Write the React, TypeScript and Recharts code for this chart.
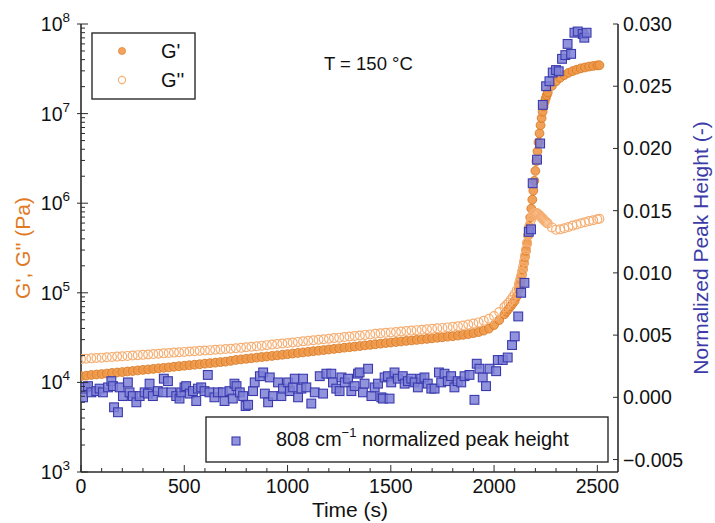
import React from "react";
import { ScatterChart, Scatter, XAxis, YAxis } from "recharts";

// ---------- data ----------
// [time (s), G' (Pa)]
const gPrime: [number, number][] = [
  [0, 11750], [25, 11900], [50, 12100], [75, 12250], [100, 12400], [125, 12550], [150, 12750], [175, 12900],
  [200, 13050], [225, 13250], [250, 13400], [275, 13600], [300, 13800], [325, 13950], [350, 14150], [375, 14350],
  [400, 14550], [425, 14700], [450, 14950], [475, 15150], [500, 15350], [525, 15550], [550, 15750], [575, 15950],
  [600, 16200], [625, 16400], [650, 16600], [675, 16850], [700, 17050], [725, 17400], [750, 17800], [775, 18050],
  [800, 18350], [825, 18600], [850, 18900], [875, 19200], [900, 19450], [925, 19750], [950, 20050], [975, 20350],
  [1000, 20650], [1025, 21000], [1050, 21300], [1075, 21600], [1100, 21950], [1125, 22300], [1150, 22600], [1175, 22950],
  [1200, 23300], [1225, 23650], [1250, 24000], [1275, 24400], [1300, 24700], [1325, 25100], [1350, 25450], [1375, 25900],
  [1400, 26250], [1425, 26650], [1450, 27050], [1475, 27500], [1500, 27850], [1525, 28250], [1550, 28650], [1575, 29050],
  [1600, 29400], [1625, 29800], [1650, 30200], [1675, 30600], [1700, 31050], [1725, 31500], [1750, 31900], [1775, 32350],
  [1800, 32800], [1825, 33350], [1850, 33950], [1875, 34650], [1900, 35500], [1925, 36500], [1950, 37850], [1975, 39800],
  [2000, 43650], [2025, 49550], [2050, 57550], [2060, 61650], [2070, 66050], [2080, 70800], [2090, 75850], [2100, 81300],
  [2110, 91200], [2120, 109650], [2125, 123000], [2130, 138000], [2135, 158500], [2140, 182000], [2145, 213800], [2150, 251200],
  [2155, 295100], [2160, 354800], [2165, 436500], [2170, 549500], [2175, 691800], [2180, 871000], [2185, 1096000], [2190, 1380000],
  [2195, 1778000], [2200, 2291000], [2205, 2951000], [2210, 3802000], [2215, 4786000], [2220, 6026000], [2225, 7413000], [2230, 8913000],
  [2235, 10470000], [2240, 12020000], [2245, 13490000], [2250, 14790000], [2255, 16030000], [2260, 17180000], [2280, 20420000], [2300, 22910000],
  [2320, 25120000], [2340, 26920000], [2360, 28510000], [2380, 29850000], [2400, 30900000], [2420, 31990000], [2440, 32730000], [2460, 33500000],
  [2480, 34040000], [2500, 34510000], [2510, 34670000],
];

// [time (s), G'' (Pa)]
const gDoublePrime: [number, number][] = [
  [0, 18200], [25, 18350], [50, 18550], [75, 18700], [100, 18900], [125, 19050], [150, 19250], [175, 19400],
  [200, 19600], [225, 19750], [250, 19950], [275, 20150], [300, 20300], [325, 20500], [350, 20700], [375, 20900],
  [400, 21100], [425, 21300], [450, 21500], [475, 21700], [500, 21900], [525, 22100], [550, 22300], [575, 22500],
  [600, 22700], [625, 22900], [650, 23100], [675, 23350], [700, 23550], [725, 23750], [750, 24000], [775, 24300],
  [800, 24650], [825, 25000], [850, 25350], [875, 25700], [900, 26050], [925, 26400], [950, 26800], [975, 27150],
  [1000, 27550], [1025, 27900], [1050, 28300], [1075, 28700], [1100, 29100], [1125, 29500], [1150, 29900], [1175, 30350],
  [1200, 30750], [1225, 31200], [1250, 31600], [1275, 32050], [1300, 32500], [1325, 32950], [1350, 33400], [1375, 33900],
  [1400, 34350], [1425, 34850], [1450, 35300], [1475, 35750], [1500, 36150], [1525, 36550], [1550, 37000], [1575, 37400],
  [1600, 37850], [1625, 38300], [1650, 38700], [1675, 39200], [1700, 39600], [1725, 40100], [1750, 40550], [1775, 41100],
  [1800, 41700], [1825, 42350], [1850, 43150], [1875, 44150], [1900, 45300], [1925, 46750], [1950, 48750], [1975, 51300],
  [2000, 54950], [2025, 60950], [2050, 69200], [2060, 73300], [2070, 77600], [2080, 83200], [2090, 89100], [2100, 96600],
  [2110, 107150], [2120, 125900], [2125, 138000], [2130, 153100], [2135, 171800], [2140, 195000], [2145, 223900], [2150, 260000],
  [2155, 305500], [2160, 363100], [2165, 436500], [2170, 512900], [2175, 588800], [2180, 660700], [2185, 716100], [2190, 749900],
  [2195, 770900], [2200, 779800], [2205, 776200], [2210, 765600], [2215, 749900], [2220, 731100], [2225, 711200], [2230, 691800],
  [2235, 673000], [2240, 653100], [2245, 636800], [2250, 620900], [2255, 606700], [2260, 594300], [2280, 537000], [2300, 507000],
  [2320, 510500], [2340, 524800], [2360, 543300], [2380, 562300], [2400, 579400], [2420, 596000], [2440, 613800], [2460, 630900],
  [2480, 645700], [2500, 660700], [2510, 669900],
];

// [time (s), normalized peak height (-)]
const peakHeight: [number, number][] = [
  [10, 0.0], [21, 0.0008], [34, 0.0009], [50, 0.0004], [74, 0.0005], [90, 0.0007], [106, 0.0004], [131, 0.0008],
  [147, 0.0013], [155, 0.0009], [160, -0.0008], [179, -0.0012], [187, 0.0008], [203, 0.0001], [227, 0.0012], [235, 0.0004],
  [251, 0.0001], [268, -0.0004], [284, 0.0001], [308, 0.0004], [324, 0.0003], [332, 0.0011], [348, 0.0001], [372, 0.0005],
  [397, 0.0004], [401, 0.0015], [421, 0.0013], [437, 0.0004], [461, 0.0001], [477, -0.0001], [485, 0.0004], [501, 0.0008],
  [509, 0.0009], [526, 0.0003], [542, 0.0005], [558, -0.0003], [566, 0.0007], [582, 0.0008], [598, 0.0005], [614, 0.0018],
  [622, 0.0004], [646, 0.0], [663, 0.0004], [687, 0.0004], [695, -0.0003], [719, 0.0005], [735, -0.0001], [743, 0.0011],
  [753, 0.0009], [769, 0.0004], [785, 0.0001], [797, -0.0007], [809, -0.0006], [833, 0.0005], [841, 0.0012], [866, 0.0017],
  [882, 0.002], [890, 0.0003], [906, -0.0004], [914, 0.0016], [930, 0.0001], [954, 0.0012], [970, 0.0001], [978, 0.0007],
  [1003, 0.0012], [1011, 0.0005], [1027, 0.0008], [1035, 0.0015], [1051, 0.0], [1067, 0.0007], [1075, 0.0015], [1091, 0.0008],
  [1115, -0.0005], [1132, 0.0004], [1156, 0.0017], [1172, 0.0003], [1188, 0.0019], [1212, 0.0019], [1220, 0.0012], [1236, 0.0007],
  [1252, 0.0005], [1261, 0.0016], [1277, 0.0012], [1293, 0.0015], [1309, 0.0005], [1325, 0.0009], [1341, 0.0019], [1349, 0.002],
  [1365, 0.0004], [1373, 0.0011], [1390, 0.0023], [1406, 0.0001], [1422, 0.0008], [1438, 0.0011], [1454, 0.0], [1462, -0.0001],
  [1470, 0.0016], [1486, 0.0017], [1494, -0.0001], [1502, 0.0012], [1518, 0.002], [1534, 0.0015], [1558, 0.0017], [1567, 0.0011],
  [1583, 0.0013], [1599, 0.0015], [1615, 0.0012], [1631, 0.0008], [1647, 0.0015], [1663, 0.0016], [1679, 0.0011], [1696, 0.0007],
  [1712, 0.0007], [1733, 0.002], [1744, 0.0012], [1760, 0.0019], [1776, 0.0013], [1792, 0.0017], [1808, 0.0008], [1824, 0.0013],
  [1841, 0.0012], [1857, 0.0017], [1881, 0.0018], [1905, -0.0002], [1916, 0.0027], [1929, 0.0023], [1945, 0.0016], [1961, 0.0009],
  [1978, 0.0023], [2010, 0.0021], [2018, 0.003], [2042, 0.003], [2066, 0.0032], [2087, 0.0042], [2100, 0.0049], [2117, 0.0065],
  [2131, 0.0084], [2147, 0.0092], [2168, 0.0133], [2179, 0.0135], [2187, 0.0172], [2208, 0.0191], [2223, 0.0204], [2236, 0.0235],
  [2252, 0.025], [2268, 0.0254], [2284, 0.0261], [2300, 0.0263], [2313, 0.0262], [2329, 0.0272], [2345, 0.0275], [2356, 0.0284],
  [2373, 0.0276], [2389, 0.0293], [2405, 0.0294], [2429, 0.0292], [2437, 0.0289], [2448, 0.0293],
];

// ---------- ticks ----------
const xTicks = [0, 100, 200, 300, 400, 500, 600, 700, 800, 900, 1000, 1100, 1200, 1300, 1400, 1500, 1600, 1700, 1800, 1900, 2000, 2100, 2200, 2300, 2400, 2500];
const xMajorStep = 500;
const logDecades = [1e3, 1e4, 1e5, 1e6, 1e7, 1e8];
const logMinorMultipliers = [2, 3, 4, 5, 6, 7, 8, 9];
const rightTicks = [-0.005, 0, 0.005, 0.01, 0.015, 0.02, 0.025, 0.03];

const leftTicks: number[] = [];
logDecades.forEach((d, i) => {
  leftTicks.push(d);
  if (i < logDecades.length - 1) logMinorMultipliers.forEach((m) => leftTicks.push(d * m));
});

// ---------- styles ----------
const FONT = "'Liberation Sans', Arial, Helvetica, sans-serif";
const AXIS = "#2b2b2b";
const ORANGE_FILL = "#EE9848";
const ORANGE_EDGE = "#D97A26";
const ORANGE_LEGEND = "#F4A25C";
const ORANGE_OPEN = "#F6AE72";
const BLUE_FILL = "#7E80D6";
const BLUE_EDGE = "#3A3AAE";
const ORANGE_TEXT = "#E07A24";
const BLUE_TEXT = "#3C3CA8";

const W = 715;
const H = 523;

const toPoints = (arr: [number, number][]) => arr.map(([t, y]) => ({ t, y }));

const BottomTick = (props: any) => {
  const { x, y, payload } = props;
  const v = payload.value;
  const major = v % xMajorStep === 0;
  return (
    <g>
      <line x1={x} x2={x} y1={y} y2={y - (major ? 7 : 4)} stroke={AXIS} strokeWidth={1} />
      {major && (
        <text x={x} y={y + 21} textAnchor="middle" fontSize={19.5} fill="#111" fontFamily={FONT}>
          {v}
        </text>
      )}
    </g>
  );
};

const TopTick = (props: any) => {
  const { x, y, payload } = props;
  const v = payload.value;
  const major = v % xMajorStep === 0;
  return <line x1={x} x2={x} y1={y} y2={y + (major ? 7 : 4)} stroke={AXIS} strokeWidth={1} />;
};

const LeftTick = (props: any) => {
  const { x, y, payload } = props;
  const v = payload.value;
  const lg = Math.log10(v);
  const e = Math.round(lg);
  const major = Math.abs(lg - e) < 1e-9;
  if (!major) return <line x1={x} x2={x + 4} y1={y} y2={y} stroke={AXIS} strokeWidth={1} />;
  return (
    <g>
      <line x1={x - 4} x2={x + 7} y1={y} y2={y} stroke={AXIS} strokeWidth={1} />
      <text x={x - 11} y={y + 7} textAnchor="end" fontSize={19.5} fill="#111" fontFamily={FONT}>
        <tspan>10</tspan>
        <tspan fontSize={13.5} dy={-9}>{e}</tspan>
      </text>
    </g>
  );
};

const RightTick = (props: any) => {
  const { x, y, payload } = props;
  const v = payload.value as number;
  const label = (v < 0 ? "\u2212" : "") + Math.abs(v).toFixed(3);
  return (
    <g>
      <line x1={x - 5} x2={x} y1={y} y2={y} stroke={AXIS} strokeWidth={1} />
      <text x={x + 5} y={y + 7} textAnchor="start" fontSize={19.5} fill="#111" fontFamily={FONT}>
        {label}
      </text>
    </g>
  );
};

const FilledCircle = (props: any) => (
  <circle cx={props.cx} cy={props.cy} r={4.4} fill={ORANGE_FILL} fillOpacity={0.9} stroke={ORANGE_EDGE} strokeWidth={0.9} />
);
const OpenCircle = (props: any) => (
  <circle cx={props.cx} cy={props.cy} r={4.4} fill="none" stroke={ORANGE_OPEN} strokeWidth={1.2} />
);
const BlueSquare = (props: any) => (
  <rect x={props.cx - 4.4} y={props.cy - 4.4} width={8.8} height={8.8} fill={BLUE_FILL} fillOpacity={0.85} stroke={BLUE_EDGE} strokeWidth={1.1} />
);

export default function App() {
  return (
    <div style={{ position: "absolute", left: 0, top: 0, width: W, height: H, background: "#fff" }}>
      <ScatterChart width={W} height={H} margin={{ top: 24, right: 17, bottom: 21, left: 21 }}>
        <XAxis
          xAxisId="bottom"
          dataKey="t"
          type="number"
          domain={[0, 2600]}
          ticks={xTicks}
          interval={0}
          tickSize={0}
          tickMargin={0}
          height={30}
          allowDataOverflow
          axisLine={{ stroke: AXIS, strokeWidth: 1.6 }}
          tick={<BottomTick />}
        />
        <XAxis
          xAxisId="top"
          orientation="top"
          dataKey="t"
          type="number"
          domain={[0, 2600]}
          ticks={xTicks}
          interval={0}
          tickSize={0}
          tickMargin={0}
          height={0}
          allowDataOverflow
          axisLine={{ stroke: AXIS, strokeWidth: 1.6 }}
          tick={<TopTick />}
        />
        <YAxis
          yAxisId="left"
          dataKey="y"
          type="number"
          scale="log"
          domain={[1e3, 1e8]}
          ticks={leftTicks}
          interval={0}
          tickSize={0}
          tickMargin={0}
          width={60}
          allowDataOverflow
          axisLine={{ stroke: AXIS, strokeWidth: 1.6 }}
          tick={<LeftTick />}
        />
        <YAxis
          yAxisId="right"
          orientation="right"
          dataKey="y"
          type="number"
          domain={[-0.006, 0.03]}
          ticks={rightTicks}
          interval={0}
          tickSize={0}
          tickMargin={0}
          width={80}
          allowDataOverflow
          axisLine={{ stroke: AXIS, strokeWidth: 1.6 }}
          tick={<RightTick />}
        />
        <Scatter
          name="G'"
          data={toPoints(gPrime)}
          xAxisId="bottom"
          yAxisId="left"
          shape={<FilledCircle />}
          isAnimationActive={false}
        />
        <Scatter
          name="G''"
          data={toPoints(gDoublePrime)}
          xAxisId="bottom"
          yAxisId="left"
          shape={<OpenCircle />}
          isAnimationActive={false}
        />
        <Scatter
          name="808 cm-1 normalized peak height"
          data={toPoints(peakHeight)}
          xAxisId="bottom"
          yAxisId="right"
          shape={<BlueSquare />}
          isAnimationActive={false}
        />
      </ScatterChart>

      <svg
        width={W}
        height={H}
        style={{ position: "absolute", left: 0, top: 0, pointerEvents: "none" }}
        fontFamily={FONT}
      >
        {/* G', G'' legend */}
        <rect x={92} y={33} width={103} height={66} fill="#fff" stroke={AXIS} strokeWidth={1.4} />
        <circle cx={122} cy={51} r={3.6} fill={ORANGE_LEGEND} stroke={ORANGE_EDGE} strokeWidth={0.6} />
        <text x={161} y={58} fontSize={20} fill="#111">G'</text>
        <circle cx={122} cy={80} r={3.6} fill="#fff" stroke={ORANGE_OPEN} strokeWidth={1.1} />
        <text x={161} y={87} fontSize={20} fill="#111">G''</text>

        {/* annotation */}
        <text x={324} y={70} fontSize={18.5} fill="#111">T = 150 °C</text>

        {/* peak legend */}
        <rect x={206} y={417} width={402} height={45} fill="#fff" stroke={AXIS} strokeWidth={1.4} />
        <rect x={232} y={437} width={8} height={8} fill={BLUE_FILL} fillOpacity={0.85} stroke={BLUE_EDGE} strokeWidth={1.1} />
        <text x={276} y={446} fontSize={20} fill="#111">
          <tspan>808 cm</tspan>
          <tspan fontSize={13} dy={-9}>{"\u22121"}</tspan>
          <tspan dy={9}> normalized peak height</tspan>
        </text>

        {/* axis titles */}
        <text x={350} y={517} fontSize={21} textAnchor="middle" fill="#111">Time (s)</text>
        <text
          transform="translate(30,248) rotate(-90)"
          fontSize={21}
          textAnchor="middle"
          fill={ORANGE_TEXT}
        >
          G', G'' (Pa)
        </text>
        <text
          transform="translate(708,248) rotate(-90)"
          fontSize={21}
          textAnchor="middle"
          fill={BLUE_TEXT}
        >
          Normalized Peak Height (-)
        </text>
      </svg>
    </div>
  );
}
